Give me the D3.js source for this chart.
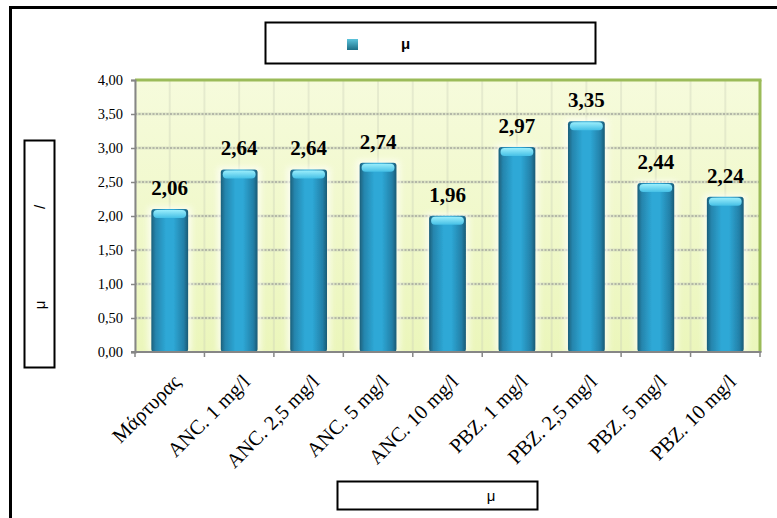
<!DOCTYPE html>
<html>
<head>
<meta charset="utf-8">
<script src="https://cdn.jsdelivr.net/npm/d3@7"></script>
<style>
  html, body { margin: 0; padding: 0; background: #ffffff; }
  svg { display: block; }
</style>
</head>
<body>
<svg id="chart" width="777" height="518"></svg>
<script>
// Treatments shown along the x axis
const categories = [
  "Μάρτυρας", "ANC. 1 mg/l", "ANC. 2,5 mg/l", "ANC. 5 mg/l", "ANC. 10 mg/l",
  "PBZ. 1 mg/l", "PBZ. 2,5 mg/l", "PBZ. 5 mg/l", "PBZ. 10 mg/l"
];
// Measured value per treatment
const values = [2.06, 2.64, 2.64, 2.74, 1.96, 2.97, 3.35, 2.44, 2.24];
// Y axis ticks
const yTicks = [0, 0.5, 1, 1.5, 2, 2.5, 3, 3.5, 4];
// Legend / axis title texts
const legendLabel = "μ";
const yTitleParts = ["/", "μ"];
const xTitle = "μ";

const fmt = v => d3.format(".2f")(v).replace(".", ",");

const svg = d3.select("#chart");
const defs = svg.append("defs");

const plot = { left: 135, right: 760, top: 80, bottom: 352 };

const x = d3.scaleBand()
  .domain(categories)
  .range([plot.left, plot.right])
  .paddingInner(0.47)
  .paddingOuter(0.235);

const y = d3.scaleLinear().domain([0, 4]).range([plot.bottom, plot.top]);

// Gradients
const bg = defs.append("linearGradient").attr("id", "plotBg")
  .attr("x1", 0).attr("y1", 0).attr("x2", 0).attr("y2", 1);
bg.append("stop").attr("offset", "0%").attr("stop-color", "#f6fbdc");
bg.append("stop").attr("offset", "100%").attr("stop-color", "#ebf6bb");

const barGrad = defs.append("linearGradient").attr("id", "barGrad")
  .attr("x1", 0).attr("y1", 0).attr("x2", 1).attr("y2", 0);
[["0%", "#1c5f7a"], ["12%", "#2585ad"], ["40%", "#2ea8d6"], ["60%", "#2ea8d6"],
 ["88%", "#2380a8"], ["100%", "#1a5a74"]].forEach(([o, c]) =>
  barGrad.append("stop").attr("offset", o).attr("stop-color", c));

const capGrad = defs.append("linearGradient").attr("id", "capGrad")
  .attr("x1", 0).attr("y1", 0).attr("x2", 0).attr("y2", 1);
capGrad.append("stop").attr("offset", "0%").attr("stop-color", "#9beefc");
capGrad.append("stop").attr("offset", "100%").attr("stop-color", "#45c0e6");

const legGrad = defs.append("linearGradient").attr("id", "legGrad")
  .attr("x1", 0).attr("y1", 0).attr("x2", 0).attr("y2", 1);
legGrad.append("stop").attr("offset", "0%").attr("stop-color", "#5cc4dc");
legGrad.append("stop").attr("offset", "100%").attr("stop-color", "#1d6e86");

const glow = defs.append("filter").attr("id", "glow")
  .attr("x", "-50%").attr("y", "-20%").attr("width", "200%").attr("height", "140%");
glow.append("feGaussianBlur").attr("stdDeviation", 3);

const soft = defs.append("filter").attr("id", "soft");
soft.append("feGaussianBlur").attr("stdDeviation", 0.6);

// Outer frame
svg.append("rect")
  .attr("x", 10.5).attr("y", 7.5).attr("width", 800).attr("height", 600)
  .attr("fill", "#ffffff").attr("stroke", "#000").attr("stroke-width", 3);

// Plot background
svg.append("rect")
  .attr("x", plot.left).attr("y", plot.top)
  .attr("width", plot.right - plot.left).attr("height", plot.bottom - plot.top)
  .attr("fill", "url(#plotBg)");

// Faint vertical streaks
const vg = svg.append("g").attr("opacity", 0.35);
categories.forEach(c => {
  [x(c) - (x.step() - x.bandwidth()) / 2, x(c) + x.bandwidth() / 2].forEach(px => {
    vg.append("line").attr("x1", px).attr("x2", px)
      .attr("y1", plot.top).attr("y2", plot.bottom)
      .attr("stroke", "#c9cfb8").attr("stroke-width", 2);
  });
});

// Horizontal gridlines
const grid = svg.append("g");
yTicks.filter(t => t > 0 && t < 4).forEach(t => {
  grid.append("line")
    .attr("x1", plot.left).attr("x2", plot.right)
    .attr("y1", y(t)).attr("y2", y(t))
    .attr("stroke", "#d4dcc0").attr("stroke-width", 3).attr("opacity", 0.7);
  grid.append("line")
    .attr("x1", plot.left).attr("x2", plot.right)
    .attr("y1", y(t)).attr("y2", y(t))
    .attr("stroke", "#8c8c8c").attr("stroke-width", 1.2)
    .attr("stroke-dasharray", "2,1.5");
});

// Bars
const bars = svg.append("g");
categories.forEach((c, i) => {
  const v = values[i];
  const bx = x(c), bw = x.bandwidth(), by = y(v) - 3;
  const bh = plot.bottom - by;
  bars.append("rect")
    .attr("x", bx - 3).attr("y", by - 2).attr("width", bw + 6).attr("height", bh + 2)
    .attr("fill", "#ffffff").attr("opacity", 0.75).attr("filter", "url(#glow)");
  bars.append("rect")
    .attr("x", bx).attr("y", by).attr("width", bw).attr("height", bh)
    .attr("rx", 3).attr("fill", "url(#barGrad)").attr("filter", "url(#soft)");
  bars.append("rect")
    .attr("x", bx + 2).attr("y", by + 1).attr("width", bw - 4).attr("height", 8)
    .attr("rx", 4).attr("fill", "url(#capGrad)").attr("filter", "url(#soft)");
});

// Plot frame: green top/right, grey axes
svg.append("line").attr("x1", plot.left).attr("x2", plot.right + 1.5)
  .attr("y1", plot.top).attr("y2", plot.top)
  .attr("stroke", "#9bbb59").attr("stroke-width", 3);
svg.append("line").attr("x1", plot.right).attr("x2", plot.right)
  .attr("y1", plot.top).attr("y2", plot.bottom)
  .attr("stroke", "#9bbb59").attr("stroke-width", 3);

// Y axis
const yAxis = d3.axisLeft(y).tickValues(yTicks).tickFormat(fmt)
  .tickSize(4).tickPadding(8);
const yg = svg.append("g").attr("transform", `translate(${plot.left},0)`).call(yAxis);
yg.select(".domain").attr("stroke", "#868686").attr("stroke-width", 2);
yg.selectAll(".tick line").attr("stroke", "#868686").attr("stroke-width", 1.5);
yg.selectAll(".tick text")
  .attr("font-family", "'Liberation Serif', 'Times New Roman', serif")
  .attr("font-size", 14.5).attr("fill", "#000");

// X axis with ticks at category boundaries
const boundaries = d3.range(categories.length + 1).map(i => plot.left + i * x.step());
const xg = svg.append("g");
xg.append("line").attr("x1", plot.left - 4).attr("x2", plot.right + 1.5)
  .attr("y1", plot.bottom).attr("y2", plot.bottom)
  .attr("stroke", "#868686").attr("stroke-width", 2);
boundaries.forEach(bx => {
  xg.append("line").attr("x1", bx).attr("x2", bx)
    .attr("y1", plot.bottom).attr("y2", plot.bottom + 5)
    .attr("stroke", "#868686").attr("stroke-width", 1.5);
});

// Category labels, rotated
categories.forEach(c => {
  const cx = x(c) + x.bandwidth() / 2;
  svg.append("text")
    .attr("transform", `translate(${cx + 12},${plot.bottom + 31}) rotate(-45)`)
    .attr("text-anchor", "end")
    .attr("font-family", "'Liberation Serif', 'Times New Roman', serif")
    .attr("font-size", 20.5).attr("fill", "#000")
    .text(c);
});

// Value labels
categories.forEach((c, i) => {
  svg.append("text")
    .attr("x", x(c) + x.bandwidth() / 2)
    .attr("y", y(values[i]) - 17)
    .attr("text-anchor", "middle")
    .attr("font-family", "'Liberation Serif', 'Times New Roman', serif")
    .attr("font-weight", "bold").attr("font-size", 21).attr("fill", "#000")
    .text(fmt(values[i]));
});

// Legend
svg.append("rect").attr("x", 265.5).attr("y", 22.5).attr("width", 330).attr("height", 41)
  .attr("fill", "#fff").attr("stroke", "#000").attr("stroke-width", 2);
svg.append("rect").attr("x", 347).attr("y", 39).attr("width", 11).attr("height", 11)
  .attr("fill", "url(#legGrad)");
svg.append("text").attr("x", 401).attr("y", 49)
  .attr("font-family", "'Liberation Sans', Arial, sans-serif")
  .attr("font-weight", "bold").attr("font-size", 15).text(legendLabel);

// Y axis title
svg.append("rect").attr("x", 24.5).attr("y", 140.5).attr("width", 30).attr("height", 227)
  .attr("fill", "#fff").attr("stroke", "#000").attr("stroke-width", 2);
svg.append("text").attr("transform", "translate(45,207) rotate(-90)")
  .attr("text-anchor", "middle")
  .attr("font-family", "'Liberation Sans', Arial, sans-serif")
  .attr("font-size", 15).text(yTitleParts[0]);
svg.append("text").attr("transform", "translate(45,305) rotate(-90)")
  .attr("text-anchor", "middle")
  .attr("font-family", "'Liberation Sans', Arial, sans-serif")
  .attr("font-size", 15).text(yTitleParts[1]);

// X axis title
svg.append("rect").attr("x", 337.5).attr("y", 481.5).attr("width", 200).attr("height", 28)
  .attr("fill", "#fff").attr("stroke", "#000").attr("stroke-width", 2);
svg.append("text").attr("x", 491).attr("y", 501)
  .attr("text-anchor", "middle")
  .attr("font-family", "'Liberation Sans', Arial, sans-serif")
  .attr("font-size", 15).text(xTitle);
</script>
</body>
</html>
